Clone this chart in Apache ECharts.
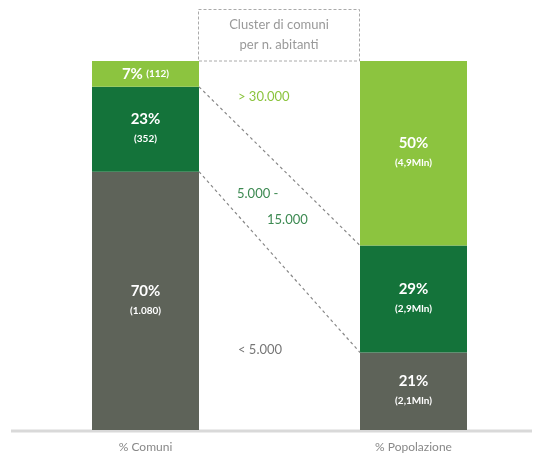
<!DOCTYPE html>
<html>
<head>
<meta charset="utf-8">
<script src="https://cdn.jsdelivr.net/npm/echarts@6/dist/echarts.min.js"></script>
<style>
  html, body { margin: 0; padding: 0; background: #fff; }
  #main { width: 533px; height: 459px; }
</style>
</head>
<body>
<div id="main"></div>
<script>
// dati
var categories = ['% Comuni', '% Popolazione'];
var fasce = ['< 5.000', '5.000 - 15.000', '> 30.000'];
var quotaPiccoli = [70, 21];   // < 5.000
var quotaMedi = [23, 29];      // 5.000 - 15.000
var quotaGrandi = [7, 50];     // > 30.000
var dettaglioPiccoli = ['1.080', '2,1Mln'];
var dettaglioMedi = ['352', '2,9Mln'];
var dettaglioGrandi = ['112', '4,9Mln'];

var colori = ['#5e6359', '#14733a', '#8cc43f'];
var font = 'Lato, "Open Sans", sans-serif';

(function() {
  var myChart = echarts.init(document.getElementById('main'));

  // asse con una categoria vuota in mezzo (spazio per le linee di raccordo)
  var asse = [categories[0], '', categories[1]];
  function conVuoto(arr) { return [arr[0], '-', arr[1]]; }

  // etichetta dentro la barra
  function etichetta(dettagli) {
    return {
      show: true,
      position: 'inside',
      formatter: function(p) {
        var d = dettagli[p.dataIndex === 0 ? 0 : 1];
        if (p.value < 10) return '{pct|' + p.value + '%} {cnt|(' + d + ')}';
        return '{pct|' + p.value + '%}\n{cnt|(' + d + ')}';
      },
      rich: {
        pct: { color: '#fff', fontSize: 15, fontWeight: 'bold', fontFamily: font, lineHeight: 20 },
        cnt: { color: '#fff', fontSize: 10, fontWeight: 'bold', fontFamily: font, lineHeight: 20 }
      }
    };
  }

  function serie(nome, dati, dettagli, i) {
    return {
      name: nome,
      type: 'bar',
      stack: 'tot',
      barWidth: 107,
      data: conVuoto(dati),
      itemStyle: { color: colori[i] },
      label: etichetta(dettagli),
      silent: true
    };
  }

  // confini fra i segmenti (cumulati) per le linee tratteggiate
  var confini = [
    [quotaPiccoli[0], quotaPiccoli[1]],
    [quotaPiccoli[0] + quotaMedi[0], quotaPiccoli[1] + quotaMedi[1]]
  ];

  var option = {
    animation: false,
    grid: { left: 78.5, width: 402, top: 61, bottom: 29 },
    xAxis: {
      type: 'category',
      data: asse,
      axisTick: { show: false },
      axisLine: { show: false },
      axisLabel: { color: '#888', fontSize: 12, fontFamily: font, margin: 11 }
    },
    yAxis: { type: 'value', min: 0, max: 100, show: false },
    graphic: [
      // linea di base
      {
        type: 'line',
        shape: { x1: 11, y1: 431, x2: 532, y2: 431 },
        style: { stroke: '#d9d9d9', lineWidth: 3 },
        z: 1
      },
      {
        type: 'rect',
        shape: { x: 198.5, y: 9.5, width: 161, height: 51.5 },
        style: { fill: 'none', stroke: '#aaa', lineWidth: 1, lineDash: [3, 2] }
      },
      {
        type: 'text', x: 279, y: 25,
        style: { text: 'Cluster di comuni', fill: '#999', fontSize: 13, fontFamily: font, align: 'center', verticalAlign: 'middle' }
      },
      {
        type: 'text', x: 279, y: 45,
        style: { text: 'per n. abitanti', fill: '#999', fontSize: 13, fontFamily: font, align: 'center', verticalAlign: 'middle' }
      },
      {
        type: 'text', x: 238, y: 97,
        style: { text: fasce[2], fill: '#8cc43f', fontSize: 13, fontFamily: font, verticalAlign: 'middle' }
      },
      {
        type: 'text', x: 237, y: 194,
        style: { text: '5.000 -', fill: '#3d8a52', fontSize: 13, fontFamily: font, verticalAlign: 'middle' }
      },
      {
        type: 'text', x: 267, y: 220,
        style: { text: '15.000', fill: '#3d8a52', fontSize: 13, fontFamily: font, verticalAlign: 'middle' }
      },
      {
        type: 'text', x: 238, y: 350,
        style: { text: fasce[0], fill: '#777', fontSize: 13, fontFamily: font, verticalAlign: 'middle' }
      }
    ],
    series: [
      serie(fasce[0], quotaPiccoli, dettaglioPiccoli, 0),
      serie(fasce[1], quotaMedi, dettaglioMedi, 1),
      serie(fasce[2], quotaGrandi, dettaglioGrandi, 2),
      {
        type: 'custom',
        silent: true,
        data: confini,
        renderItem: function(params, api) {
          var half = 107 / 2;
          var a = api.coord([0, api.value(0)]);
          var b = api.coord([2, api.value(1)]);
          return {
            type: 'line',
            shape: { x1: a[0] + half, y1: a[1], x2: b[0] - half, y2: b[1] },
            style: { stroke: '#888', lineWidth: 1.2, lineDash: [3, 3] }
          };
        },
        z: 5
      }
    ]
  };

  myChart.setOption(option);
})();
</script>
</body>
</html>
